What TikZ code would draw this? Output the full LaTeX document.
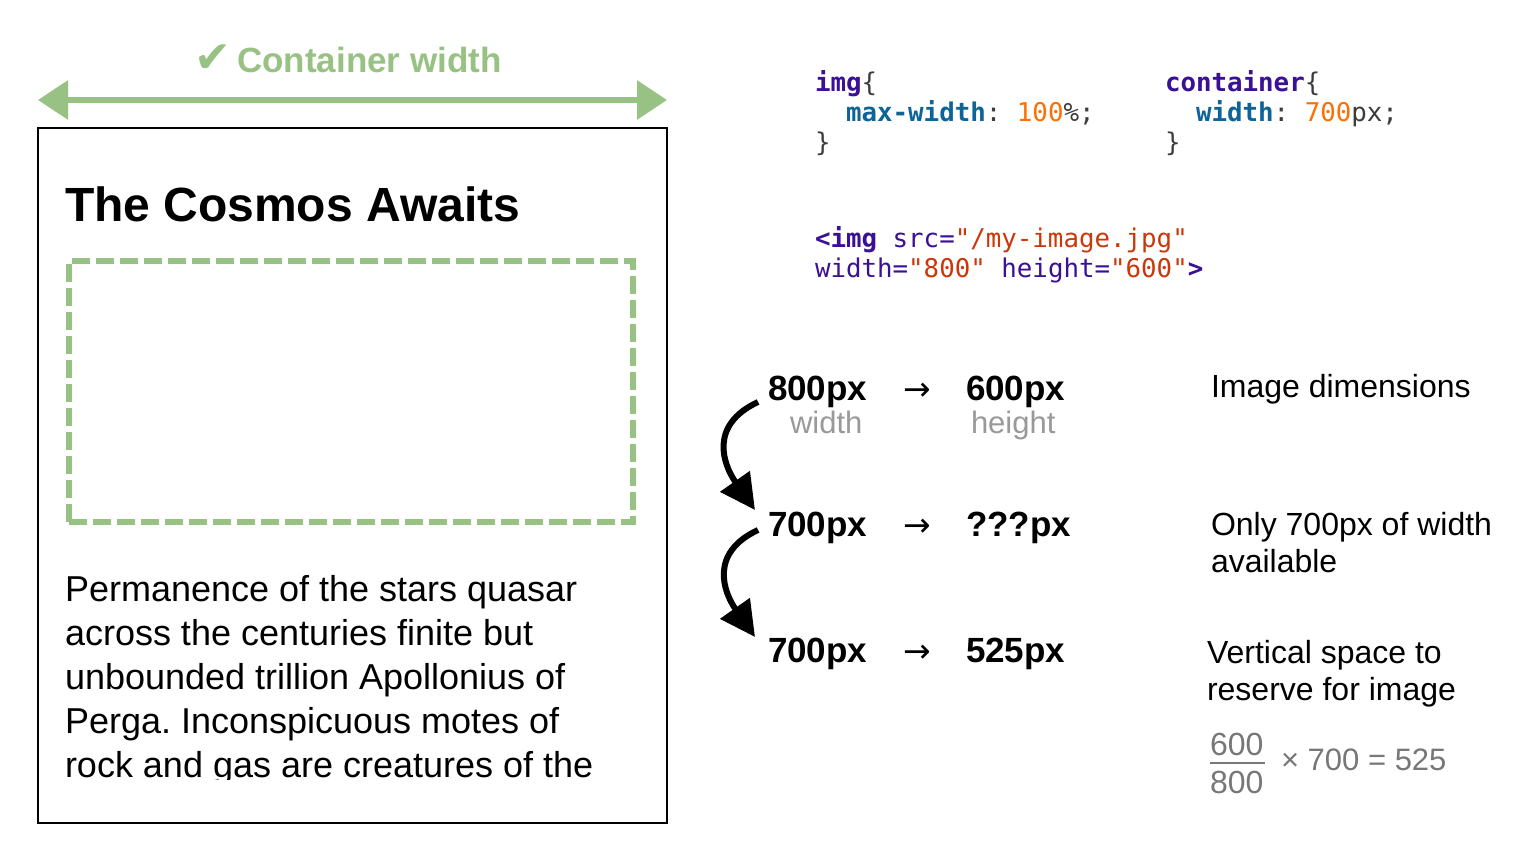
\documentclass[tikz,border=0pt]{standalone}
\usepackage{fontspec}
\setmainfont{Liberation Sans}
\newfontfamily\codefont{DejaVu Sans Mono}
\newfontfamily\symfont{DejaVu Sans}
\usepackage{xcolor}
\usetikzlibrary{positioning, arrows.meta}
\frenchspacing

\definecolor{okgreen}{RGB}{151,194,131}
\definecolor{subgray}{RGB}{153,153,153}
\definecolor{mathgray}{RGB}{119,119,119}
\definecolor{kwpurple}{RGB}{58,16,148}
\definecolor{propteal}{RGB}{14,100,150}
\definecolor{numorange}{RGB}{255,110,0}
\definecolor{strred}{RGB}{204,55,10}
\definecolor{codegray}{RGB}{60,60,60}

\tikzset{
  txt/.style={inner sep=0pt, outer sep=0pt, anchor=base west},
  bignum/.style={txt, font=\bfseries\fontsize{35}{42}\selectfont},
  sublabel/.style={txt, text=subgray, font=\fontsize{31}{37}\selectfont},
  note/.style={txt, align=left, font=\fontsize{32}{37}\selectfont},
  codeblock/.style={txt, align=left, font=\codefont\fontsize{25.8}{30}\selectfont},
  thinarrow/.style={txt, font=\symfont\fontsize{33}{40}\selectfont},
  flowarrow/.style={line width=6pt, -{Triangle[length=35pt,width=35pt]}},
}

\begin{document}
\begin{tikzpicture}[x=1pt, y=1pt]

\path[use as bounding box, fill=white] (0,0) rectangle (1536,-850);

% Container
\node[draw, line width=2pt, inner sep=0pt, outer sep=0pt, anchor=north west,
      minimum width=629pt, minimum height=695pt] at (38,-128) (page) {};

\node[txt, font=\bfseries\fontsize{48}{58}\selectfont] at (65,-222) (title) {The Cosmos Awaits};

\node[draw=okgreen, line width=6pt, dash pattern=on 18pt off 6pt, inner sep=0pt, outer sep=0pt,
      anchor=north west, minimum width=564pt, minimum height=261pt] at (69,-261) (imgbox) {};

\begin{scope}
  \clip ([yshift=44pt]page.south west) rectangle (page.north east);
  \node[txt, anchor=north west, align=left, font=\fontsize{36}{44}\selectfont] at (65,-575) (para)
    {Permanence of the stars quasar\\
     across the centuries finite but\\
     unbounded trillion Apollonius of\\
     Perga. Inconspicuous motes of\\
     rock and gas are creatures of the};
\end{scope}

% Container width
\node[txt, anchor=base, text=okgreen, font=\bfseries\fontsize{35}{42}\selectfont] at (348,-73) (cwlabel)
  {{\symfont\fontsize{44}{44}\selectfont ✔}\,Container width};
\draw[okgreen, line width=6pt, {Triangle[length=30pt,width=38pt]}-{Triangle[length=30pt,width=38pt]}]
  ([yshift=28pt]page.north west) -- ([yshift=28pt]page.north east);

% CSS (base = last line)
\node[codeblock] at (815,-152) (cssimg)
  {\textcolor{kwpurple}{\bfseries img}\textcolor{codegray}{\{}\\
   \phantom{xx}\textcolor{propteal}{\bfseries max-width}\textcolor{codegray}{:\ }\textcolor{numorange}{100}\textcolor{codegray}{\%;}\\
   \textcolor{codegray}{\}}};
\node[codeblock] at (1165,-152) (csscont)
  {\textcolor{kwpurple}{\bfseries container}\textcolor{codegray}{\{}\\
   \phantom{xx}\textcolor{propteal}{\bfseries width}\textcolor{codegray}{:\ }\textcolor{numorange}{700}\textcolor{codegray}{px;}\\
   \textcolor{codegray}{\}}};

% HTML
\node[codeblock] at (815,-278) (html)
  {\textcolor{kwpurple}{\bfseries <img}\textcolor{kwpurple}{\ src=}\textcolor{strred}{"/my-image.jpg"}\\
   \textcolor{kwpurple}{width=}\textcolor{strred}{"800"}\textcolor{kwpurple}{\ height=}\textcolor{strred}{"600"}\textcolor{kwpurple}{\bfseries >}};

% Rows
\node[bignum] at (768,-400) (w800) {800px};
\node[thinarrow] at (903,-400) (to1) {→};
\node[bignum] at (966,-400) (h600) {600px};
\node[sublabel] at (790,-433) (wlbl) {width};
\node[sublabel] at (971,-433) (hlbl) {height};

\node[bignum] at (768,-536) (w700a) {700px};
\node[thinarrow] at (903,-536) (to2) {→};
\node[bignum] at (966,-536) (hq) {???px};

\node[bignum] at (768,-662) (w700b) {700px};
\node[thinarrow] at (903,-662) (to3) {→};
\node[bignum] at (966,-662) (h525) {525px};

\draw[flowarrow] ([shift={(-10,-2)}]w800.base west) to[out=205, in=125, looseness=1.3] ([shift={(-13,26)}]w700a.base west);
\draw[flowarrow] ([shift={(-10,6)}]w700a.base west) to[out=205, in=125, looseness=1.3] ([shift={(-13,25)}]w700b.base west);

% Notes (base = last line)
\node[note] at (1211,-397) (note1) {Image dimensions};
\node[note] at (1211,-572) (note2) {Only 700px of width\\available};
\node[note] at (1207,-700) (note3) {Vertical space to\\reserve for image};

% Formula
\node[txt, text=mathgray, font=\fontsize{32}{37}\selectfont] at (1210,-755) (num) {600};
\node[txt, text=mathgray, font=\fontsize{32}{37}\selectfont] at (1210,-793) (den) {800};
\node[txt, text=mathgray, font=\fontsize{31}{37}\selectfont] at (1281,-770) (rest) {× 700 = 525};
\draw[mathgray, line width=2pt] ([yshift=-8pt]num.base west) -- ([shift={(2pt,-8pt)}]num.base east);

\end{tikzpicture}
\end{document}
